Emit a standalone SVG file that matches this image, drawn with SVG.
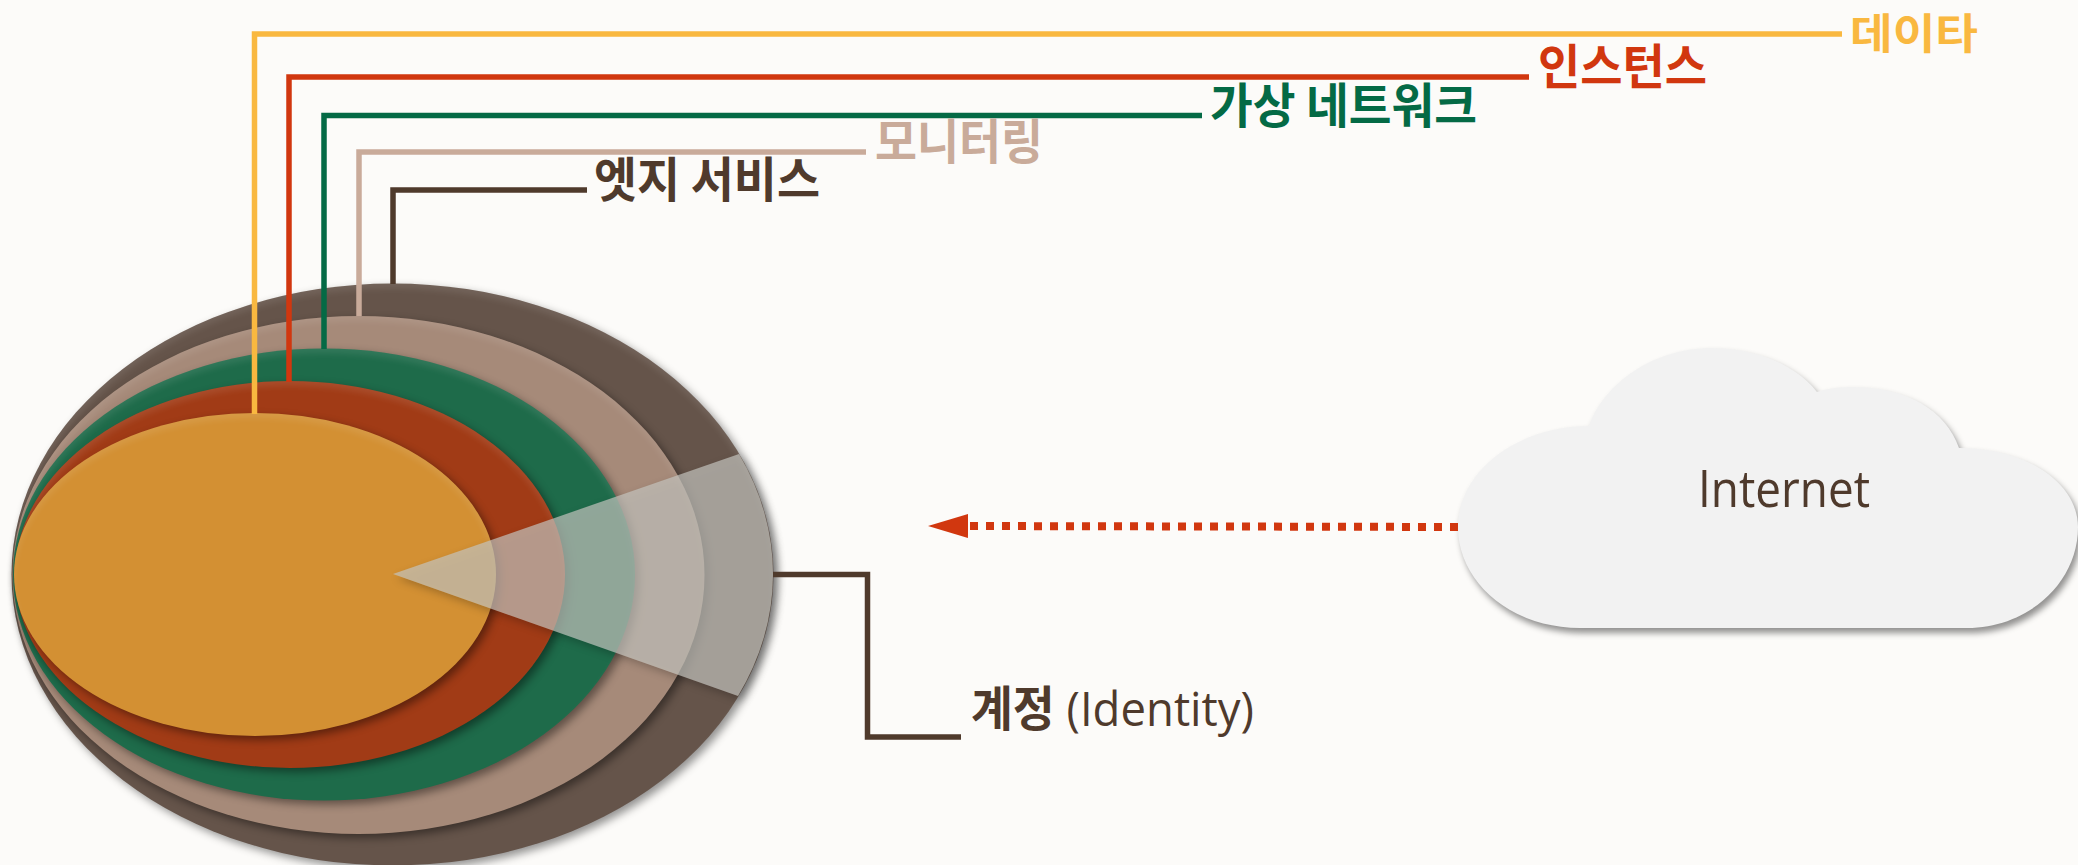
<svg xmlns="http://www.w3.org/2000/svg" width="2078" height="865" viewBox="0 0 2078 865">
<defs>
<filter id="soft" x="-10%" y="-10%" width="120%" height="120%" color-interpolation-filters="sRGB">
<feGaussianBlur in="SourceAlpha" stdDeviation="4" result="b"/>
<feOffset in="b" dx="4" dy="4" result="o"/>
<feFlood flood-color="#000" flood-opacity=".42"/>
<feComposite in2="o" operator="in" result="shadow"/>
<feGaussianBlur in="SourceAlpha" stdDeviation="3"/>
<feOffset dx="0" dy="5" result="ib"/>
<feFlood flood-color="#fff" flood-opacity=".09"/>
<feComposite in2="ib" operator="out"/>
<feComposite in2="SourceAlpha" operator="in" result="glow"/>
<feMerge><feMergeNode in="shadow"/><feMergeNode in="SourceGraphic"/><feMergeNode in="glow"/></feMerge>
</filter>
<filter id="outer" x="-10%" y="-10%" width="120%" height="120%" color-interpolation-filters="sRGB">
<feGaussianBlur in="SourceAlpha" stdDeviation="4"/>
<feOffset dx="4" dy="4" result="o"/>
<feFlood flood-color="#000" flood-opacity=".35"/>
<feComposite in2="o" operator="in"/>
<feComposite in2="SourceAlpha" operator="out" result="shadow"/>
<feMerge><feMergeNode in="shadow"/><feMergeNode in="SourceGraphic"/></feMerge>
</filter>
<filter id="cloudShadow" x="-5%" y="-5%" width="110%" height="115%" color-interpolation-filters="sRGB">
<feDropShadow dx="3" dy="5" stdDeviation="3" flood-color="#000" flood-opacity=".42"/>
</filter>
<marker id="head" markerUnits="userSpaceOnUse" markerWidth="42" markerHeight="26" refX="1" refY="13" orient="auto">
<path d="M1 1 L41 13 L1 25 Z" fill="#d1370f"/>
</marker>
<style>
.e{filter:url(#soft)}
.l{fill:none;stroke-width:5.5;stroke-linejoin:miter}
text{font-family:"Noto Sans CJK KR","Noto Sans",sans-serif;font-size:48px;font-weight:700}
</style>
</defs>
<rect width="2078" height="865" fill="#fcfbf9"/>
<g id="layers">
<ellipse id="edge" class="e" cx="392.5" cy="574.5" rx="381" ry="291" fill="#65544a"/>
<ellipse id="monitoring" class="e" cx="358.5" cy="575" rx="346" ry="259" fill="#a68a79"/>
<ellipse id="network" class="e" cx="324" cy="574.5" rx="311" ry="226" fill="#1e6b4a"/>
<ellipse id="instance" class="e" cx="290" cy="574.5" rx="275" ry="193.5" fill="#a13b16"/>
<ellipse id="data" class="e" cx="255" cy="574.5" rx="241" ry="161.5" fill="#d39033"/>
<path id="identity" filter="url(#outer)" d="M393 574 L739 454 A381 291 0 0 1 738 696 Z" fill="#c2c2bc" fill-opacity=".7"/>
</g>
<g id="connectors">
<path class="l" stroke="#f9b840" d="M254.500 414 V34 H1842"/>
<path class="l" stroke="#d1370f" d="M289 382 V77 H1529"/>
<path class="l" stroke="#046a45" d="M324 349 V115.500 H1202"/>
<path class="l" stroke="#c9ab9a" d="M359 316 V152 H866"/>
<path class="l" stroke="#4f3a2c" d="M393 284 V190 H587"/>
<path class="l" stroke="#4f3a2c" d="M773 574.500 H867.500 V737 H961"/>
</g>
<g id="cloud">
<path filter="url(#cloudShadow)" fill="#f2f2f2" d="M1589 426 C1604 383 1654 348 1711 348 C1756 348 1796 365 1817 392 C1828 388 1840 387 1853 387 C1906 387 1946 410 1959 448 C2028 448 2078 484 2078 527 C2078 583 2028 628 1967 628 H1580 C1512 628 1458 583 1458 527 C1458 471 1517 426 1589 426 Z"/>
<text x="1698" y="507" style="font-family:'Open Sans','Noto Sans',sans-serif;font-size:52px;font-weight:400" fill="#4f3a2c" textLength="172" lengthAdjust="spacingAndGlyphs">Internet</text>
</g>
<g id="arrow">
<path d="M1458 527 L968 526" fill="none" stroke="#d1370f" stroke-width="8" stroke-dasharray="8 8" marker-end="url(#head)"/>
</g>
<g id="label-data"><text x="1850" y="49" fill="#f9b840" style="font-size:42px" textLength="128" lengthAdjust="spacingAndGlyphs">데이타</text></g>
<g id="label-instance"><text x="1538" y="84" fill="#d1370f" textLength="169" lengthAdjust="spacingAndGlyphs">인스턴스</text></g>
<g id="label-network"><text x="1210" y="123" fill="#046a45" textLength="267" lengthAdjust="spacingAndGlyphs">가상 네트워크</text></g>
<g id="label-monitoring"><text x="875" y="159" fill="#c9ab9a" textLength="168" lengthAdjust="spacingAndGlyphs">모니터링</text></g>
<g id="label-edge"><text x="594" y="197" fill="#4f3a2c" textLength="226" lengthAdjust="spacingAndGlyphs">엣지 서비스</text></g>
<g id="label-identity"><text x="971" y="726" fill="#4f3a2c" textLength="283" lengthAdjust="spacingAndGlyphs">계정<tspan style="font-family:'Open Sans','Noto Sans',sans-serif;font-weight:400"> (Identity)</tspan></text></g>
</svg>
